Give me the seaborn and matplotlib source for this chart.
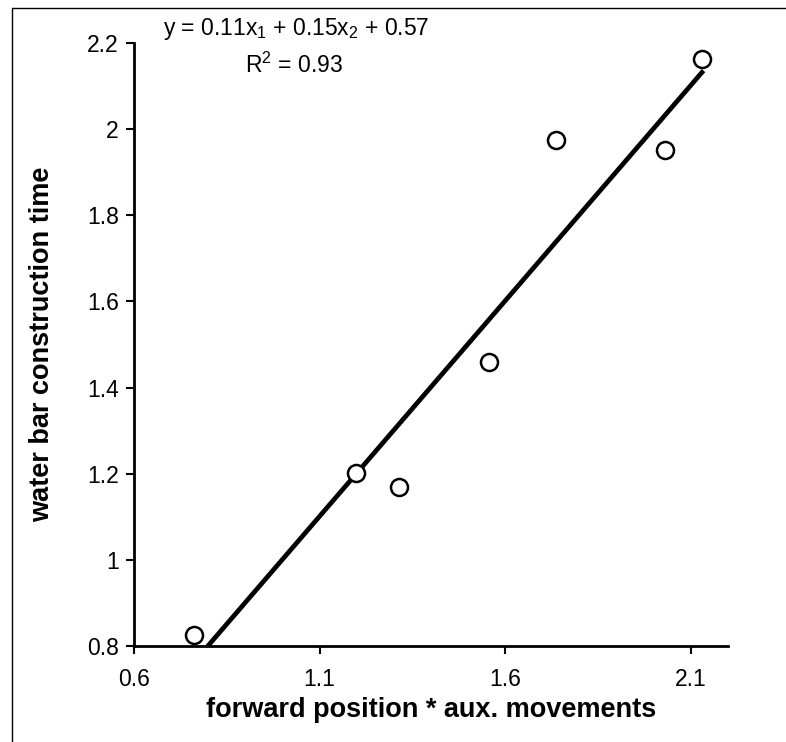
import matplotlib
matplotlib.use("Agg")
import matplotlib.pyplot as plt
import seaborn as sns
import pandas as pd
from matplotlib.lines import Line2D

# data
x_vals = [0.762, 1.198, 1.314, 1.555, 1.737, 2.031, 2.130]
y_vals = [0.826, 1.201, 1.170, 1.459, 1.975, 1.952, 2.162]
fit_x = [0.762, 2.134]
fit_y = [0.763, 2.136]
x_ticks = [0.6, 1.1, 1.6, 2.1]
x_tick_labels = ["0.6", "1.1", "1.6", "2.1"]
y_ticks = [0.8, 1.0, 1.2, 1.4, 1.6, 1.8, 2.0, 2.2]
y_tick_labels = ["0.8", "1", "1.2", "1.4", "1.6", "1.8", "2", "2.2"]
x_label = "forward position * aux. movements"
y_label = "water bar construction time"
eq_text = r"y = 0.11x$_1$ + 0.15x$_2$ + 0.57"
r2_text = r"R$^2$ = 0.93"

sns.set_theme(style="white")
plt.rcParams["font.family"] = ["Liberation Sans", "DejaVu Sans"]
plt.rcParams["mathtext.fontset"] = "custom"
plt.rcParams["mathtext.rm"] = "Liberation Sans"
plt.rcParams["mathtext.it"] = "Liberation Sans"
plt.rcParams["mathtext.default"] = "regular"
plt.rcParams["text.color"] = "black"
plt.rcParams["axes.labelcolor"] = "black"
plt.rcParams["xtick.color"] = "black"
plt.rcParams["ytick.color"] = "black"

df = pd.DataFrame({"x": x_vals, "y": y_vals})
fit_df = pd.DataFrame({"x": fit_x, "y": fit_y})

fig = plt.figure(figsize=(7.86, 7.42), dpi=100)
ax = fig.add_axes([134 / 786, 1 - 646 / 742, (728 - 134) / 786, (646 - 43) / 742])

sns.lineplot(data=fit_df, x="x", y="y", ax=ax, color="black", linewidth=3.4,
             solid_capstyle="butt")
sns.scatterplot(data=df, x="x", y="y", ax=ax, marker="o", s=150,
                facecolor="white", edgecolor="black", linewidth=1.8, zorder=5)

ax.set_xlim(0.6, 2.2)
ax.set_ylim(0.8, 2.2)
ax.set_xticks(x_ticks)
ax.set_xticklabels(x_tick_labels)
ax.set_yticks(y_ticks)
ax.set_yticklabels(y_tick_labels)
ax.tick_params(axis="both", direction="out", length=6, width=1.5, labelsize=16.5,
               colors="black", labelcolor="black", bottom=True, left=True)
ax.tick_params(axis="x", pad=10)
ax.tick_params(axis="y", pad=5)

for side in ["top", "right"]:
    ax.spines[side].set_visible(False)
for side in ["left", "bottom"]:
    ax.spines[side].set_color("black")
    ax.spines[side].set_linewidth(2)

ax.set_xlabel(x_label, fontsize=19.5, fontweight="bold", labelpad=4, color="black")
ax.set_ylabel(y_label, fontsize=19.5, fontweight="bold", labelpad=23, color="black")

fig.text(296 / 786, 1 - 29 / 742, eq_text, ha="center", va="center", fontsize=16.5,
         color="black")
fig.text(294 / 786, 1 - 65 / 742, r2_text, ha="center", va="center", fontsize=16.5,
         color="black")

# figure frame (left and top edges visible)
fig.add_artist(Line2D([12 / 786, 12 / 786], [0, 1 - 8 / 742], transform=fig.transFigure,
                      color="black", linewidth=1))
fig.add_artist(Line2D([12 / 786, 1], [1 - 8 / 742, 1 - 8 / 742], transform=fig.transFigure,
                      color="black", linewidth=1))

fig.savefig("out.png", dpi=100)
